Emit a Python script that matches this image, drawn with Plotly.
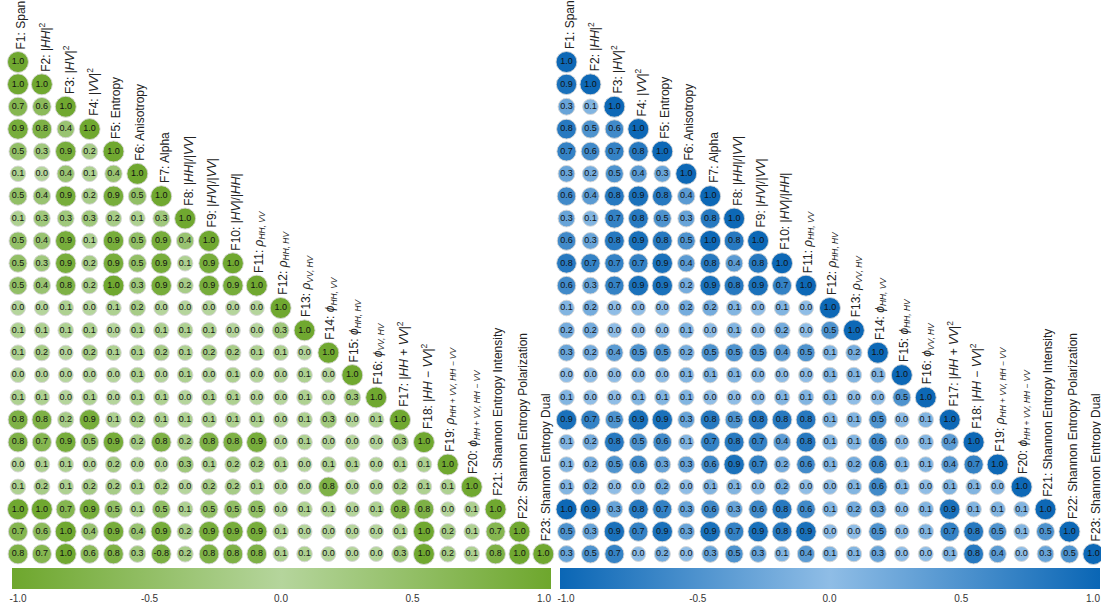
import plotly.graph_objects as go

features = [
    "F1: Span", "F2: |<i>HH</i>|<sup>2</sup>", "F3: |<i>HV</i>|<sup>2</sup>", "F4: |<i>VV</i>|<sup>2</sup>",
    "F5: Entropy", "F6: Anisotropy", "F7: Alpha", "F8: |<i>HH</i>|/|<i>VV</i>|",
    "F9: |<i>HV</i>|/|<i>VV</i>|", "F10: |<i>HV</i>|/|<i>HH</i>|",
    "F11: <i>ρ<sub>HH, VV</sub></i>", "F12: <i>ρ<sub>HH, HV</sub></i>", "F13: <i>ρ<sub>VV, HV</sub></i>",
    "F14: <i>ϕ<sub>HH, VV</sub></i>", "F15: <i>ϕ<sub>HH, HV</sub></i>", "F16: <i>ϕ<sub>VV, HV</sub></i>",
    "F17: |<i>HH</i> + <i>VV</i>|<sup>2</sup>", "F18: |<i>HH</i> − <i>VV</i>|<sup>2</sup>",
    "F19: <i>ρ<sub>HH + VV, HH − VV</sub></i>", "F20: <i>ϕ<sub>HH + VV, HH − VV</sub></i>",
    "F21: Shannon Entropy Intensity", "F22: Shannon Entropy Polarization", "F23: Shannon Entropy Dual",
]

green_rows = [
    [1.0],
    [1.0, 1.0],
    [0.7, 0.6, 1.0],
    [0.9, 0.8, 0.4, 1.0],
    [0.5, 0.3, 0.9, 0.2, 1.0],
    [0.1, 0.0, 0.4, 0.1, 0.4, 1.0],
    [0.5, 0.4, 0.9, 0.2, 0.9, 0.5, 1.0],
    [0.1, 0.3, 0.3, 0.3, 0.2, 0.1, 0.3, 1.0],
    [0.5, 0.4, 0.9, 0.1, 0.9, 0.5, 0.9, 0.4, 1.0],
    [0.5, 0.3, 0.9, 0.2, 0.9, 0.5, 0.9, 0.1, 0.9, 1.0],
    [0.5, 0.4, 0.8, 0.2, 1.0, 0.3, 0.9, 0.2, 0.9, 0.9, 1.0],
    [0.0, 0.0, 0.1, 0.0, 0.1, 0.2, 0.0, 0.0, 0.0, 0.0, 0.0, 1.0],
    [0.1, 0.1, 0.1, 0.1, 0.0, 0.1, 0.1, 0.1, 0.1, 0.0, 0.0, 0.3, 1.0],
    [0.1, 0.2, 0.0, 0.2, 0.1, 0.1, 0.2, 0.1, 0.2, 0.2, 0.1, 0.1, 0.0, 1.0],
    [0.0, 0.0, 0.0, 0.0, 0.0, 0.1, 0.0, 0.1, 0.0, 0.1, 0.0, 0.0, 0.1, 0.0, 1.0],
    [0.1, 0.1, 0.0, 0.1, 0.0, 0.1, 0.1, 0.0, 0.1, 0.1, 0.0, 0.0, 0.1, 0.0, 0.3, 1.0],
    [0.8, 0.8, 0.2, 0.9, 0.1, 0.2, 0.1, 0.1, 0.1, 0.1, 0.1, 0.0, 0.1, 0.3, 0.0, 0.1, 1.0],
    [0.8, 0.7, 0.9, 0.5, 0.9, 0.2, 0.8, 0.2, 0.8, 0.8, 0.9, 0.0, 0.1, 0.0, 0.0, 0.0, 0.3, 1.0],
    [0.0, 0.1, 0.1, 0.0, 0.2, 0.0, 0.0, 0.3, 0.1, 0.2, 0.2, 0.1, 0.0, 0.1, 0.1, 0.0, 0.1, 0.1, 1.0],
    [0.1, 0.2, 0.1, 0.2, 0.2, 0.1, 0.2, 0.0, 0.2, 0.2, 0.1, 0.0, 0.0, 0.8, 0.0, 0.0, 0.2, 0.1, 0.1, 1.0],
    [1.0, 1.0, 0.7, 0.9, 0.5, 0.1, 0.5, 0.1, 0.5, 0.5, 0.5, 0.0, 0.1, 0.1, 0.0, 0.1, 0.8, 0.8, 0.0, 0.1, 1.0],
    [0.7, 0.6, 1.0, 0.4, 0.9, 0.4, 0.9, 0.2, 0.9, 0.9, 0.9, 0.1, 0.0, 0.0, 0.0, 0.0, 0.1, 1.0, 0.2, 0.1, 0.7, 1.0],
    [0.8, 0.7, 1.0, 0.6, 0.8, 0.3, -0.8, 0.2, 0.8, 0.8, 0.8, 0.1, 0.1, 0.0, 0.0, 0.0, 0.3, 1.0, 0.2, 0.1, 0.8, 1.0, 1.0],
]

blue_rows = [
    [1.0],
    [0.9, 1.0],
    [0.3, 0.1, 1.0],
    [0.8, 0.5, 0.6, 1.0],
    [0.7, 0.6, 0.7, 0.8, 1.0],
    [0.3, 0.2, 0.5, 0.4, 0.3, 1.0],
    [0.6, 0.4, 0.8, 0.9, 0.8, 0.4, 1.0],
    [0.3, 0.1, 0.7, 0.8, 0.5, 0.3, 0.8, 1.0],
    [0.6, 0.3, 0.8, 0.9, 0.8, 0.5, 1.0, 0.8, 1.0],
    [0.8, 0.7, 0.7, 0.7, 0.9, 0.4, 0.8, 0.4, 0.8, 1.0],
    [0.6, 0.3, 0.7, 0.9, 0.9, 0.2, 0.9, 0.8, 0.9, 0.7, 1.0],
    [0.1, 0.2, 0.0, 0.0, 0.0, 0.2, 0.2, 0.1, 0.0, 0.1, 0.0, 1.0],
    [0.2, 0.2, 0.0, 0.0, 0.0, 0.1, 0.0, 0.1, 0.0, 0.2, 0.0, 0.5, 1.0],
    [0.3, 0.2, 0.4, 0.5, 0.5, 0.2, 0.5, 0.5, 0.5, 0.4, 0.5, 0.1, 0.2, 1.0],
    [0.0, 0.0, 0.0, 0.0, 0.0, 0.1, 0.1, 0.1, 0.0, 0.0, 0.0, 0.1, 0.1, 0.1, 1.0],
    [0.1, 0.0, 0.0, 0.1, 0.1, 0.1, 0.0, 0.0, 0.0, 0.1, 0.1, 0.1, 0.0, 0.0, 0.5, 1.0],
    [0.9, 0.7, 0.5, 0.9, 0.9, 0.3, 0.8, 0.5, 0.8, 0.8, 0.8, 0.1, 0.1, 0.5, 0.0, 0.1, 1.0],
    [0.1, 0.2, 0.8, 0.5, 0.6, 0.1, 0.7, 0.8, 0.7, 0.4, 0.8, 0.1, 0.1, 0.6, 0.0, 0.1, 0.4, 1.0],
    [0.1, 0.2, 0.5, 0.6, 0.3, 0.3, 0.6, 0.9, 0.7, 0.2, 0.6, 0.1, 0.2, 0.6, 0.1, 0.1, 0.4, 0.7, 1.0],
    [0.1, 0.2, 0.0, 0.0, 0.2, 0.0, 0.1, 0.1, 0.0, 0.2, 0.0, 0.0, 0.1, 0.6, 0.1, 0.0, 0.1, 0.1, 0.0, 1.0],
    [1.0, 0.9, 0.3, 0.8, 0.7, 0.3, 0.6, 0.3, 0.6, 0.8, 0.6, 0.1, 0.2, 0.3, 0.0, 0.1, 0.9, 0.1, 0.1, 0.1, 1.0],
    [0.5, 0.3, 0.9, 0.7, 0.9, 0.3, 0.9, 0.7, 0.9, 0.8, 0.9, 0.0, 0.0, 0.5, 0.0, 0.1, 0.7, 0.8, 0.5, 0.1, 0.5, 1.0],
    [0.3, 0.5, 0.7, 0.0, 0.2, 0.0, 0.3, 0.5, 0.3, 0.1, 0.4, 0.1, 0.1, 0.3, 0.0, 0.0, 0.1, 0.8, 0.4, 0.0, 0.3, 0.5, 1.0],
]

colorbar_ticks = [-1.0, -0.5, 0.0, 0.5, 1.0]

green_scale = [[0.0, "#6ea72d"], [0.5, "#b5d59c"], [1.0, "#6ea72d"]]
blue_scale = [[0.0, "#0a66b5"], [0.5, "#8fbde6"], [1.0, "#0a66b5"]]

W, H = 1101, 605
FONT = "Liberation Sans, Arial, sans-serif"
CMIN, CMAX = -1.0228, 1.0266


def cells(rows):
    xs, ys, vs = [], [], []
    for i, row in enumerate(rows):
        for j, v in enumerate(row):
            xs.append(j + 1)
            ys.append(i + 1)
            vs.append(v)
    return xs, ys, vs


fig = go.Figure()

panels = [
    (green_rows, green_scale, "x", "y", 12, 539),
    (blue_rows, blue_scale, "x2", "y2", 560, 540),
]

for rows, scale, xa, ya, cb_left, cb_len in panels:
    xs, ys, vs = cells(rows)
    fig.add_trace(go.Scatter(
        x=xs, y=ys, mode="markers+text",
        text=[f"{v:.1f}" for v in vs],
        textposition="middle center",
        textfont=dict(family=FONT, size=9, color="#111"),
        marker=dict(
            size=[15 + 6 * abs(v) for v in vs],
            opacity=1,
            color=vs, colorscale=scale, cmin=CMIN, cmax=CMAX,
            line=dict(width=1, color="rgba(215,215,215,0.9)"),
            showscale=True,
            colorbar=dict(
                orientation="h", lenmode="pixels", len=cb_len, thickness=21,
                x=cb_left / W, xanchor="left", y=(H - 568) / H, yanchor="top",
                xpad=0, ypad=0, outlinewidth=0,
                tickvals=colorbar_ticks, ticktext=[f"{t:.1f}" for t in colorbar_ticks],
                ticks="", tickfont=dict(family=FONT, size=10, color="#333"),
            ),
        ),
        cliponaxis=False, hoverinfo="skip", showlegend=False,
        xaxis=xa, yaxis=ya,
    ))
    for k, lab in enumerate(features):
        fig.add_annotation(
            x=k + 1, y=k + 1, xref=xa, yref=ya, text=lab, showarrow=False,
            textangle=-90, xanchor="center", yanchor="bottom", yshift=11, xshift=3,
            font=dict(family=FONT, size=12, color="#222"),
        )

# pixel geometry of the two panels
left_x0, left_x1 = 12.0, 12.0 + 22.5 * 23.88
right_x0, right_x1 = 560.5, 560.5 + 22.5 * 23.95
y_top, y_bot = 62 - 0.5 * 22.36, 554 + 0.5 * 22.36

axis_common = dict(visible=False, showgrid=False, zeroline=False, fixedrange=True)
fig.update_layout(
    width=W, height=H, margin=dict(l=0, r=0, t=0, b=0),
    paper_bgcolor="white", plot_bgcolor="white",
    xaxis=dict(domain=[left_x0 / W, left_x1 / W], range=[0.75, 23.25], **axis_common),
    xaxis2=dict(domain=[right_x0 / W, right_x1 / W], range=[0.75, 23.25], **axis_common),
    yaxis=dict(domain=[(H - y_bot) / H, (H - y_top) / H], range=[23.5, 0.5], anchor="x", **axis_common),
    yaxis2=dict(domain=[(H - y_bot) / H, (H - y_top) / H], range=[23.5, 0.5], anchor="x2", **axis_common),
)

fig.write_html("out.html")
